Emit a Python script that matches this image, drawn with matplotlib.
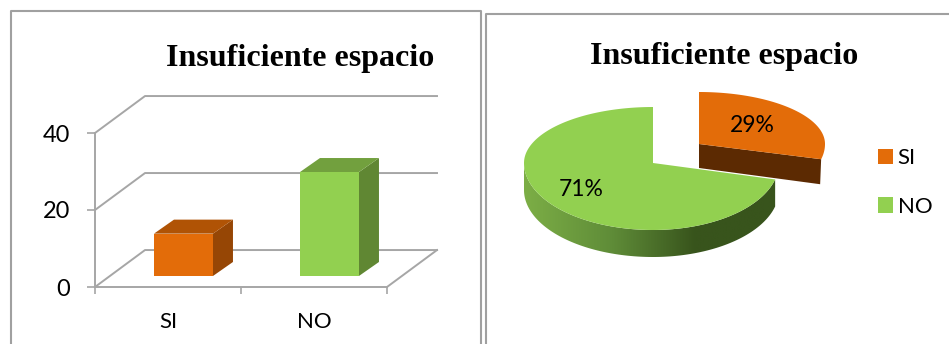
import numpy as np
import matplotlib
matplotlib.use('Agg')
import matplotlib.pyplot as plt
from matplotlib.colors import LinearSegmentedColormap
from matplotlib.patches import Patch, Polygon

categories = ['SI', 'NO']
values = [11, 27]
y_ticks = [0, 20, 40]
title = 'Insuficiente espacio'

ORANGE = '#E36C09'
GREEN = '#92D050'
GRID = '#A6A6A6'
W, H = 949, 344

plt.rcParams['font.family'] = ['Lato', 'DejaVu Sans']
fig = plt.figure(figsize=(W / 100, H / 100), dpi=100)

# background layer in image pixels: frames and the pie
bg = fig.add_axes([0, 0, 1, 1])
bg.set_xlim(0, W)
bg.set_ylim(H, 0)
bg.axis('off')
bg.plot([11, 11, 481, 481], [H, 10.5, 10.5, H], color='#A0A0A0', lw=1.5, clip_on=False)
bg.plot([486, 486, W], [H, 14, 14], color='#A0A0A0', lw=1.5, clip_on=False)
bg.text(300, 66, title, family='Liberation Serif', weight='bold', fontsize=23,
        ha='center', va='baseline')
bg.text(724, 64, title, family='Liberation Serif', weight='bold', fontsize=23,
        ha='center', va='baseline')

# 3d column chart, oblique projection of a plain value axis
ax = fig.add_axes([95 / W, (H - 287) / H, 292 / W, 154 / H])
ax.patch.set_alpha(0)
ax.set_xlim(0, 2)
ax.set_ylim(0, 40)
for name in ['top', 'right']:
    ax.spines[name].set_visible(False)
for name in ['left', 'bottom']:
    ax.spines[name].set_color(GRID)
    ax.spines[name].set_linewidth(1.4)
ax.set_yticks(y_ticks)
ax.set_xticks([0, 1, 2])
ax.set_xticklabels([])
ax.set_xticks([0.5, 1.5], categories, minor=True)
ax.tick_params(axis='y', length=5.8, width=1.2, color=GRID, labelsize=17, pad=12)
ax.tick_params(axis='x', which='major', length=5, width=1.2, color=GRID)
ax.tick_params(axis='x', which='minor', length=0, labelsize=16, pad=18)

depth_x, depth_y = 0.3425, 9.6
for v in y_ticks:
    ax.plot([0, depth_x, 2 + depth_x], [v, v + depth_y, v + depth_y], color=GRID, lw=1.4, clip_on=False)
ax.plot([2, 2 + depth_x], [0, depth_y], color=GRID, lw=1.4, clip_on=False)

bar_w = 0.404
bar_dx, bar_dy = 0.137, 3.64
bar_base = 2.86
bar_colors = [(ORANGE, '#B05305', '#964605'), (GREEN, '#72A03E', '#608733')]
for i, (v, cols) in enumerate(zip(values, bar_colors)):
    x0 = i + 0.5 + 0.106 - bar_w / 2
    x1 = x0 + bar_w
    y0, y1 = bar_base, bar_base + v
    ax.add_patch(Polygon([(x1, y0), (x1 + bar_dx, y0 + bar_dy), (x1 + bar_dx, y1 + bar_dy), (x1, y1)],
                         fc=cols[2], ec='none', clip_on=False, zorder=3))
    ax.add_patch(Polygon([(x0, y1), (x0 + bar_dx, y1 + bar_dy), (x1 + bar_dx, y1 + bar_dy), (x1, y1)],
                         fc=cols[1], ec='none', clip_on=False, zorder=3))
    ax.add_patch(Polygon([(x0, y0), (x1, y0), (x1, y1), (x0, y1)],
                         fc=cols[0], ec='none', clip_on=False, zorder=3))


def arc(center, radii, start, end):
    # perspective pie edge: far half is flatter than the near half
    t = np.radians(np.linspace(start, end, 150))
    rx = np.where(np.cos(t) < 0, radii[0], radii[1])
    ry = np.where(np.sin(t) > 0, radii[2], radii[3])
    return np.column_stack([center[0] + rx * np.cos(t), center[1] - ry * np.sin(t)])


total = sum(values)
si_sweep = values[0] / total * 360
no_sweep = values[1] / total * 360

# SI slice, pulled out
si_c = (699, 144)
si_r = (126, 126, 52, 62)
si_arc = arc(si_c, si_r, 90, 90 - si_sweep)
si_end = si_arc[-1]
bg.add_patch(Polygon([si_c, si_end, (si_end[0] - 1, si_end[1] + 25), (si_c[0], si_c[1] + 24)],
                     fc='#5C2A02', ec='none', zorder=2))
bg.add_patch(Polygon(np.vstack([[si_c], si_arc]), fc=ORANGE, ec='none', zorder=3))

# NO slice with gradient side wall
no_c = (653, 163)
no_r = (129, 126, 56, 67)
no_arc = arc(no_c, no_r, 90, 90 + no_sweep)
wall_top = arc(no_c, no_r, 180, 90 + no_sweep)
wall = np.vstack([wall_top, (wall_top + [0, 27])[::-1]])
wall_patch = Polygon(wall, fc='none', ec='none', zorder=4)
bg.add_patch(wall_patch)
cmap = LinearSegmentedColormap.from_list('wall', [(0, '#7CAE46'), (0.35, '#5F8C38'),
                                                  (0.68, '#38541C'), (1, '#38541C')])
grad = np.linspace(0, 1, 256).reshape(1, -1)
im = bg.imshow(grad, cmap=cmap, extent=[wall[:, 0].min(), wall[:, 0].max(), 270, 150],
               aspect='auto', zorder=4)
im.set_clip_path(wall_patch)
bg.set_xlim(0, W)
bg.set_ylim(H, 0)
bg.add_patch(Polygon(np.vstack([[no_c], no_arc]), fc=GREEN, ec='none', zorder=5))

bg.text(si_c[0] + 53, si_c[1] - 18, f'{round(values[0] / total * 100)}%', fontsize=16.5,
        ha='center', va='center', zorder=6)
bg.text(581, 190, f'{round(values[1] / total * 100)}%', fontsize=16.5,
        ha='center', va='center', zorder=6)

handles = [Patch(fc=ORANGE, ec='none'), Patch(fc=GREEN, ec='none')]
bg.legend(handles, categories, loc='upper left', bbox_to_anchor=(878, 148), bbox_transform=bg.transData,
          frameon=False, fontsize=16, handlelength=0.68, handleheight=0.68, handletextpad=0.2,
          labelspacing=1.3, borderpad=0, borderaxespad=0)

fig.savefig('out.png', dpi=100)
